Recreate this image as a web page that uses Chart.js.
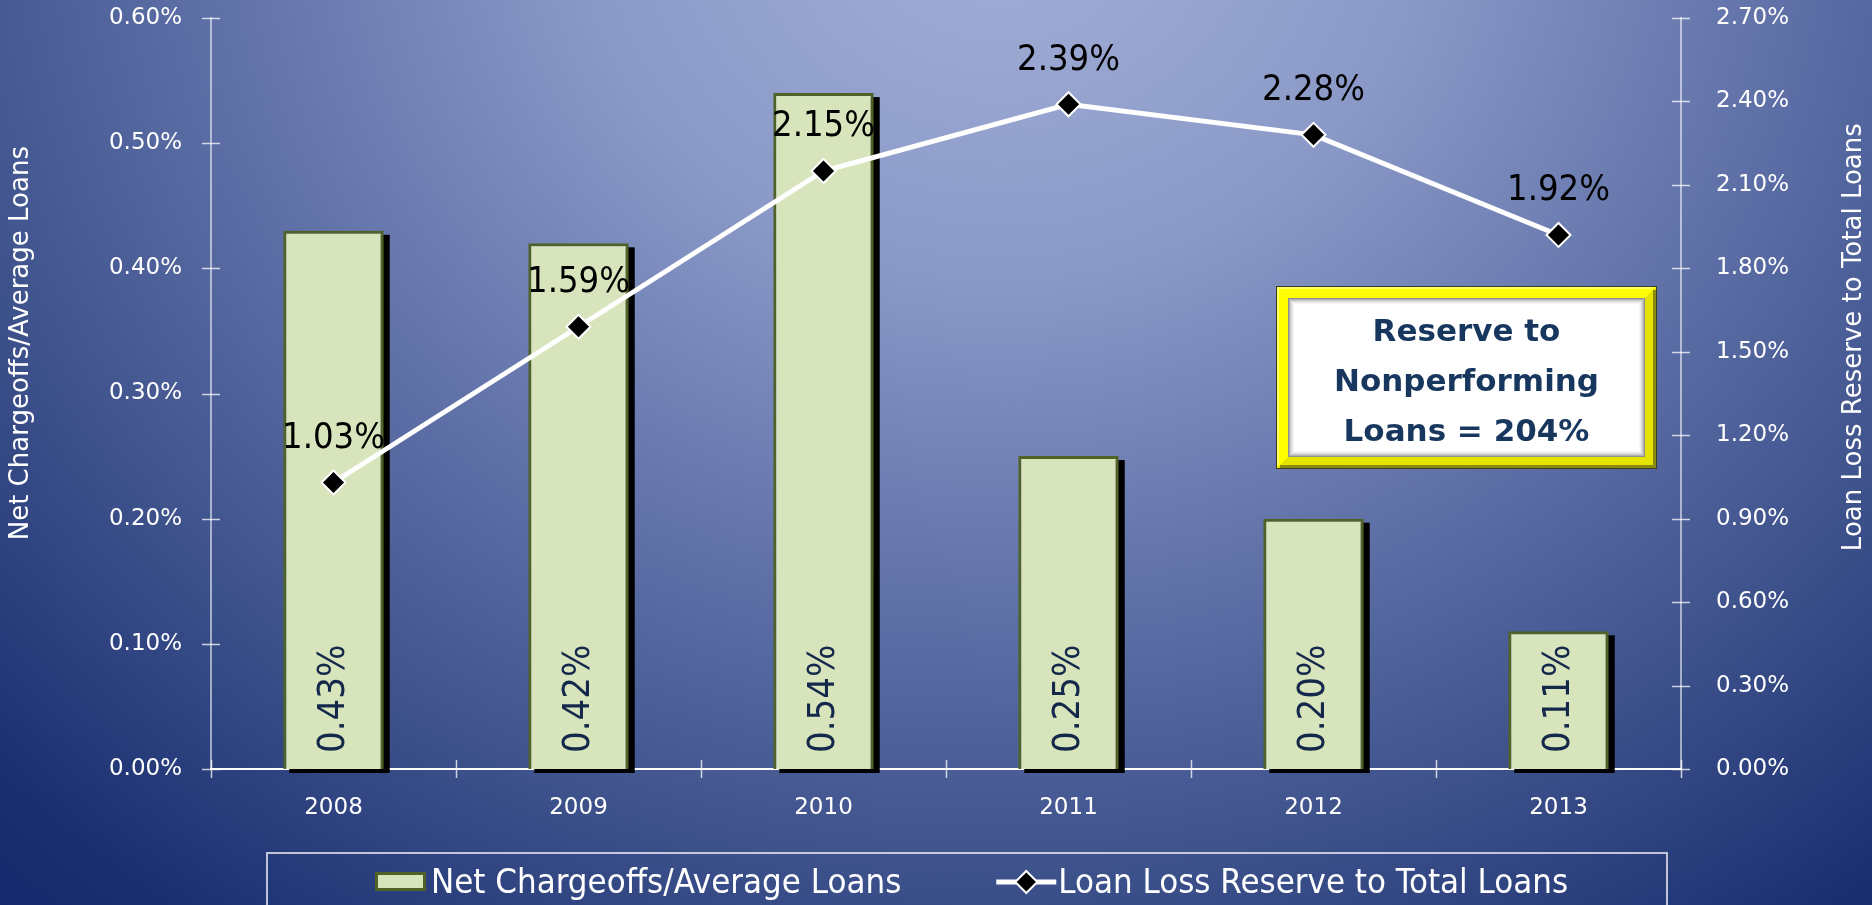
<!DOCTYPE html>
<html>
<head>
<meta charset="utf-8">
<title>Net Chargeoffs and Loan Loss Reserve</title>
<script src="https://cdn.jsdelivr.net/npm/chart.js@4.4.1/dist/chart.umd.min.js"></script>
<style>
  html, body { margin: 0; padding: 0; }
  body {
    width: 1872px; height: 905px; overflow: hidden;
    background: radial-gradient(ellipse 1400px 1250px at 1000px -100px, #a3b0d8 0%, #8a99c7 30%, #6273aa 55%, #3d518b 78%, #1a2f70 100%, #0e2468 115%);
  }
</style>
</head>
<body>
<canvas id="loanChart" width="1872" height="905"></canvas>
<script>
var years = ['2008', '2009', '2010', '2011', '2012', '2013'];
var chargeoffs = [0.43, 0.42, 0.54, 0.25, 0.20, 0.11];
var reserve = [1.03, 1.59, 2.15, 2.39, 2.28, 1.92];
var leftAxis = [0, 0.60, 0.10];   // min, max, step
var rightAxis = [0, 2.70, 0.30];
var barLabel = 'Net Chargeoffs/Average Loans';
var lineLabel = 'Loan Loss Reserve to Total Loans';
var boxLines = ['Reserve to', 'Nonperforming', 'Loans = 204%'];

var FONT = "'DejaVu Sans', sans-serif";
var NARROW = "'DejaVu Sans Condensed', 'DejaVu Sans', sans-serif";
var BAR_FILL = '#d8e4bc', BAR_EDGE = '#4f6228';

function pct(v) { return Number(v).toFixed(2) + '%'; }

function diamond(ctx, x, y, r) {
    ctx.beginPath();
    ctx.moveTo(x, y - r);
    ctx.lineTo(x + r, y);
    ctx.lineTo(x, y + r);
    ctx.lineTo(x - r, y);
    ctx.closePath();
}

// black drop shadow behind the bars (drawn from the bar elements)
var barShadow = {
    id: 'barShadow',
    beforeDatasetDraw: function (chart, args) {
        if (args.meta.type !== 'bar') return;
        var ctx = chart.ctx;
        ctx.save();
        ctx.fillStyle = '#000';
        args.meta.data.forEach(function (bar) {
            var w = bar.width;
            ctx.fillRect(bar.x - w / 2 + 6, bar.y + 4, w, bar.base - bar.y);
        });
        ctx.restore();
    }
};

var valueLabels = {
    id: 'valueLabels',
    afterDatasetsDraw: function (chart) {
        var ctx = chart.ctx;
        chart.data.datasets.forEach(function (ds, i) {
            var meta = chart.getDatasetMeta(i);
            meta.data.forEach(function (el, j) {
                var text = pct(ds.data[j]);
                ctx.save();
                ctx.textBaseline = 'middle';
                if (meta.type === 'bar') {
                    ctx.translate(el.x + 1, el.base - 16);
                    ctx.rotate(-Math.PI / 2);
                    ctx.font = '38px ' + NARROW;
                    ctx.fillStyle = '#14284b';
                    ctx.textAlign = 'left';
                    ctx.fillText(text, 0, 0);
                } else {
                    ctx.font = '36px ' + NARROW;
                    ctx.fillStyle = '#000';
                    ctx.textAlign = 'center';
                    ctx.fillText(text, el.x, el.y - 44);
                }
                ctx.restore();
            });
        });
    }
};

var frame = {
    id: 'frame',
    afterDraw: function (chart) {
        var ctx = chart.ctx, a = chart.chartArea;
        var sx = chart.scales.x, sy = chart.scales.y, sy1 = chart.scales.y1;
        ctx.save();

        // crossing tick marks
        ctx.strokeStyle = 'rgba(255,255,255,0.75)';
        ctx.lineWidth = 1.5;
        sy.ticks.forEach(function (t, i) {
            var py = Math.round(sy.getPixelForTick(i)) + 0.5;
            ctx.beginPath(); ctx.moveTo(a.left - 9, py); ctx.lineTo(a.left + 9, py); ctx.stroke();
        });
        sy1.ticks.forEach(function (t, i) {
            var py = Math.round(sy1.getPixelForTick(i)) + 0.5;
            ctx.beginPath(); ctx.moveTo(a.right - 9, py); ctx.lineTo(a.right + 9, py); ctx.stroke();
        });
        for (var k = 0; k <= years.length; k++) {
            var px = Math.round(sx.getPixelForValue(k - 0.5)) + 0.5;
            ctx.beginPath(); ctx.moveTo(px, a.bottom - 9); ctx.lineTo(px, a.bottom + 9); ctx.stroke();
        }

        // axis titles
        ctx.fillStyle = '#fff';
        ctx.font = '26px ' + FONT;
        ctx.textAlign = 'center';
        ctx.textBaseline = 'middle';
        var ty = a.top + (a.bottom - a.top) * 0.433;
        ctx.save(); ctx.translate(21, ty); ctx.rotate(-Math.PI / 2); ctx.fillText(barLabel, 0, 0); ctx.restore();
        ctx.save(); ctx.translate(chart.width - 18, ty - 6); ctx.rotate(-Math.PI / 2); ctx.fillText(lineLabel, 0, 0); ctx.restore();

        // note box with yellow bevel
        var l = a.right - 404, r = a.right - 25, t = a.top + 269, b = a.top + 450, bw = 11;
        ctx.fillStyle = '#3c3c20';
        ctx.fillRect(l - 1, t - 1, r - l + 2, b - t + 2);
        ctx.fillStyle = '#ffff00';
        ctx.fillRect(l, t, r - l, b - t);
        ctx.fillStyle = '#e4e400';
        ctx.beginPath();
        ctx.moveTo(r, t); ctx.lineTo(r, b); ctx.lineTo(l, b); ctx.lineTo(l + bw, b - bw);
        ctx.lineTo(r - bw, b - bw); ctx.lineTo(r - bw, t + bw); ctx.closePath(); ctx.fill();
        ctx.fillStyle = '#8a8a10';
        ctx.fillRect(r - 3, t + 3, 3, b - t - 3);
        ctx.fillRect(l + 3, b - 3, r - l - 3, 3);
        ctx.fillStyle = '#ffff66';
        ctx.fillRect(l, t, r - l - 3, 2);
        ctx.fillRect(l, t, 2, b - t - 3);
        ctx.fillStyle = '#ffffff';
        ctx.fillRect(l + bw, t + bw, r - l - 2 * bw, b - t - 2 * bw);
        var greys = ['#8f8f8f', '#b0b0b0', '#cacaca', '#dddddd', '#ebebeb', '#f6f6f6'];
        ctx.lineWidth = 1;
        greys.forEach(function (g, i) {
            ctx.strokeStyle = g;
            ctx.strokeRect(l + bw + i + 0.5, t + bw + i + 0.5, r - l - 2 * bw - 2 * i - 1, b - t - 2 * bw - 2 * i - 1);
        });
        ctx.fillStyle = '#17375e';
        ctx.font = 'bold 31px ' + FONT;
        var cx = (l + r) / 2, cy = (t + b) / 2;
        boxLines.forEach(function (line, i) {
            ctx.fillText(line, cx, cy + (i - 1) * 50 + 5);
        });

        // legend
        var boxTop = a.bottom + 84;
        ctx.strokeStyle = 'rgba(255,255,255,0.7)';
        ctx.lineWidth = 2;
        ctx.strokeRect(a.left + 56, boxTop, a.right - 14 - (a.left + 56), chart.height - boxTop + 10);
        var ly = a.bottom + 113;
        var lx = a.left + 164;
        ctx.fillStyle = BAR_FILL;
        ctx.fillRect(lx, ly - 10, 51, 19);
        ctx.strokeStyle = BAR_EDGE;
        ctx.lineWidth = 3;
        ctx.strokeRect(lx + 1.5, ly - 8.5, 48, 16);
        ctx.font = '34.5px ' + NARROW;
        ctx.textAlign = 'left';
        ctx.fillStyle = '#fff';
        lx += 56;
        ctx.fillText(barLabel, lx, ly + 2);
        lx += ctx.measureText(barLabel).width + 95;
        ctx.strokeStyle = '#fff';
        ctx.lineWidth = 5;
        ctx.beginPath(); ctx.moveTo(lx, ly); ctx.lineTo(lx + 60, ly); ctx.stroke();
        diamond(ctx, lx + 30, ly, 11);
        ctx.fillStyle = '#000';
        ctx.fill();
        ctx.lineWidth = 2;
        ctx.stroke();
        ctx.fillStyle = '#fff';
        ctx.fillText(lineLabel, lx + 62, ly + 2);

        ctx.restore();
    }
};

var tickFont = { family: FONT, size: 23 };

function noPad(s) { s.paddingTop = 0; s.paddingBottom = 0; }

var ctx = document.getElementById('loanChart').getContext('2d');
var loanChart = new Chart(ctx, {
    data: {
        labels: years,
        datasets: [{
            type: 'line',
            label: lineLabel,
            data: reserve,
            yAxisID: 'y1',
            borderColor: '#ffffff',
            borderWidth: 5,
            tension: 0,
            pointStyle: 'rectRot',
            pointRadius: 12,
            pointHoverRadius: 12,
            pointBackgroundColor: '#000000',
            pointBorderColor: '#ffffff',
            pointBorderWidth: 2,
            order: 0
        }, {
            type: 'bar',
            label: barLabel,
            data: chargeoffs,
            yAxisID: 'y',
            backgroundColor: BAR_FILL,
            borderColor: BAR_EDGE,
            borderWidth: 3,
            barPercentage: 0.41,
            categoryPercentage: 1,
            order: 1
        }]
    },
    options: {
        responsive: false,
        animation: false,
        devicePixelRatio: 1,
        layout: { padding: { top: 18, bottom: 66, left: 0, right: 0 } },
        plugins: {
            legend: { display: false },
            tooltip: { enabled: false }
        },
        scales: {
            x: {
                offset: true,
                grid: { display: false },
                border: { color: '#ffffff', width: 2 },
                ticks: { color: '#ffffff', font: tickFont, padding: 17 },
                afterFit: function (s) { s.height = 70; s.paddingLeft = 0; s.paddingRight = 0; }
            },
            y: {
                position: 'left',
                min: leftAxis[0],
                max: leftAxis[1],
                grid: { display: false },
                border: { color: 'rgba(255,255,255,0.55)', width: 2 },
                ticks: { stepSize: leftAxis[2], callback: pct, color: '#ffffff', font: tickFont, padding: 21 },
                afterFit: function (s) { s.width = 211; noPad(s); }
            },
            y1: {
                position: 'right',
                min: rightAxis[0],
                max: rightAxis[1],
                grid: { display: false },
                border: { color: 'rgba(255,255,255,0.55)', width: 2 },
                ticks: { stepSize: rightAxis[2], callback: pct, color: '#ffffff', font: tickFont, padding: 27 },
                afterFit: function (s) { s.width = 191; noPad(s); }
            }
        }
    },
    plugins: [barShadow, valueLabels, frame]
});
</script>
</body>
</html>
